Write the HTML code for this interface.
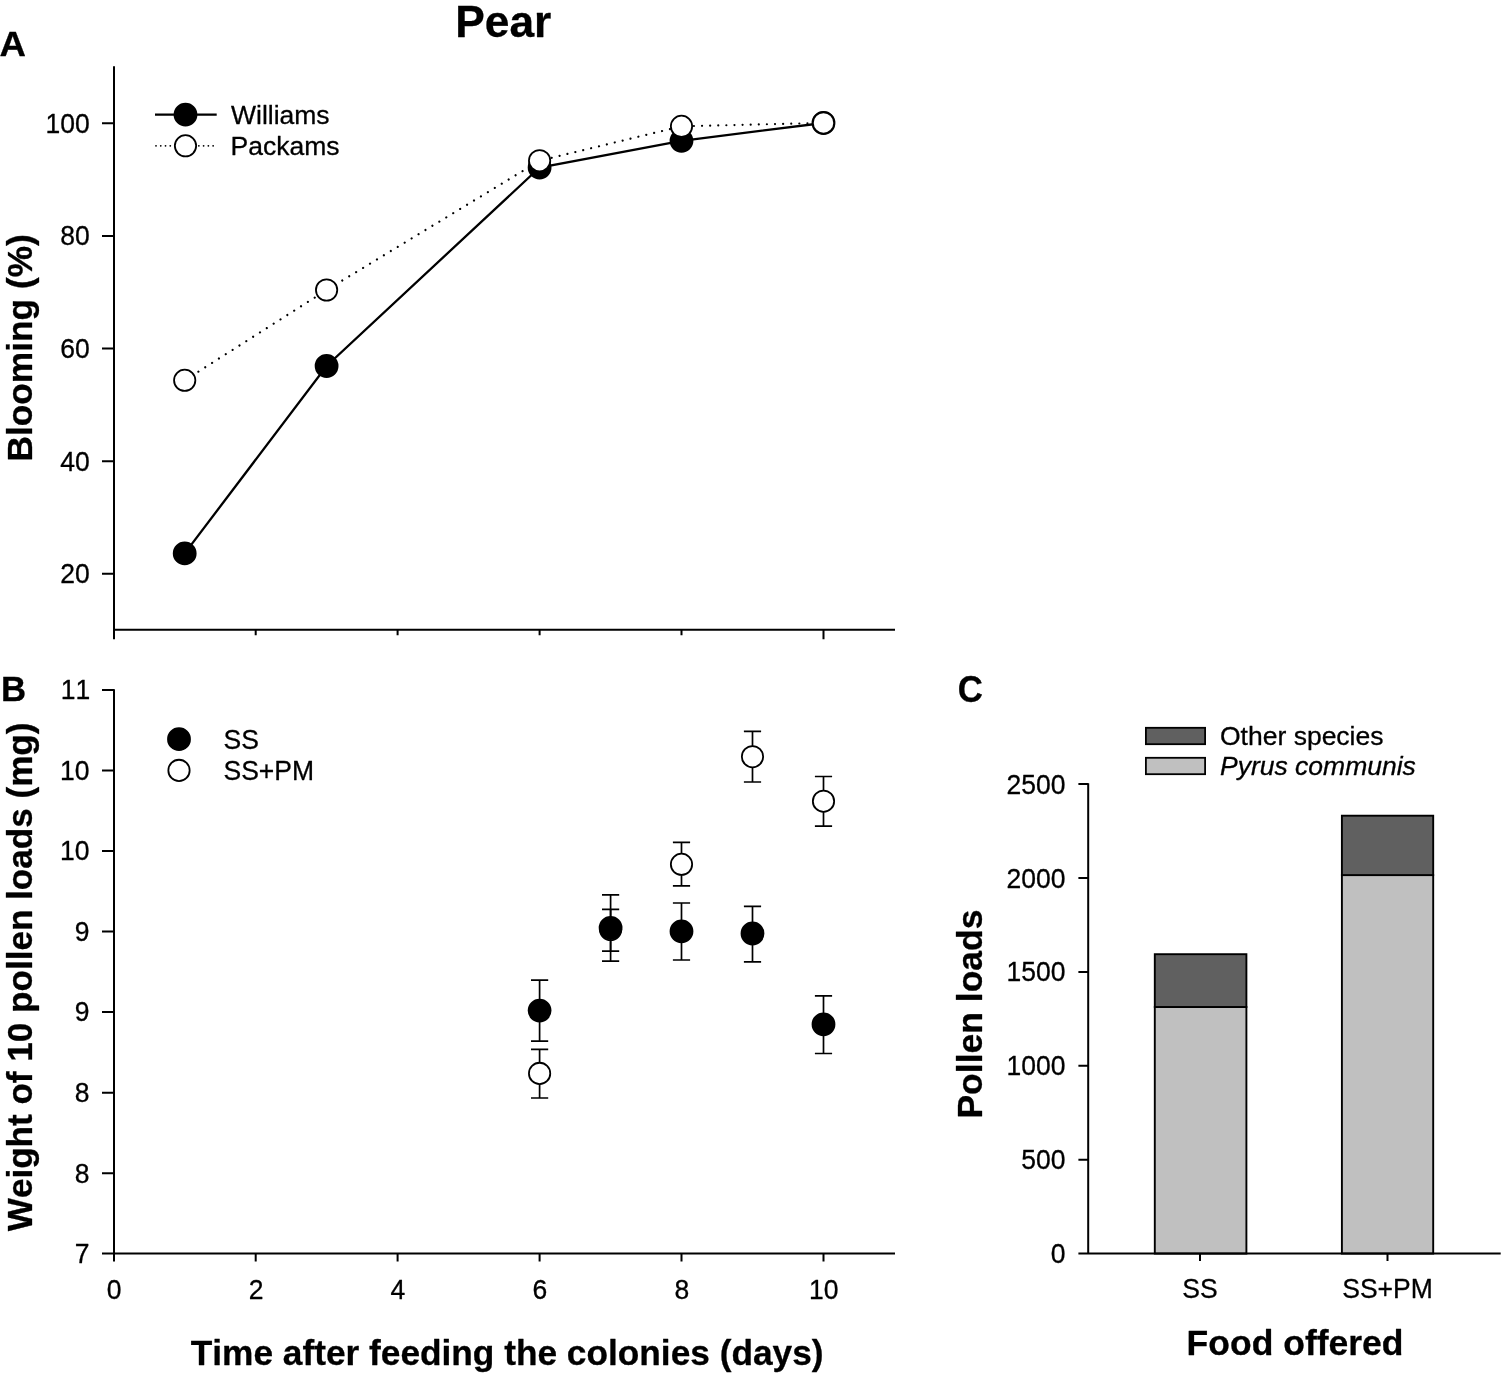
<!DOCTYPE html>
<html><head><meta charset="utf-8"><title>Pear</title>
<style>
html,body{margin:0;padding:0;background:#fff;}
svg{display:block;}
text{font-family:"Liberation Sans",sans-serif;fill:#000;stroke:#000;stroke-width:0.3px;stroke-linejoin:round;font-kerning:none;}
.b{font-weight:bold;}
.t{font-size:26.5px;}
.ax{stroke:#000;stroke-width:2;fill:none;}
.ln{stroke:#000;stroke-width:2.3;fill:none;}
.dt{stroke:#000;stroke-width:2.2;stroke-linecap:round;stroke-dasharray:0.01 8.1;fill:none;}
.eb{stroke:#000;stroke-width:1.7;fill:none;}
.oc{fill:#fff;stroke:#000;stroke-width:1.8;}
.fc{fill:#000;stroke:#000;stroke-width:2;}
</style></head><body>
<svg width="1502" height="1378" viewBox="0 0 1502 1378">
<rect width="1502" height="1378" fill="#fff"/>

<text class="b" x="455.3" y="37" font-size="44.3">Pear</text>
<text class="b" transform="translate(-0.4 55.8) scale(1.03 1)" text-anchor="start" font-size="35.5">A</text>
<path class="ax" d="M114.0 66.3V639.3M113.15 629.8H895"/>
<path class="ax" d="M102 123.3H114.0M102 235.9H114.0M102 348.5H114.0M102 461.2H114.0M102 573.8H114.0"/>
<text class="t" transform="translate(89.7 132.7) scale(1 1.04)" text-anchor="end">100</text>
<text class="t" transform="translate(89.7 245.3) scale(1 1.04)" text-anchor="end">80</text>
<text class="t" transform="translate(89.7 357.9) scale(1 1.04)" text-anchor="end">60</text>
<text class="t" transform="translate(89.7 470.5) scale(1 1.04)" text-anchor="end">40</text>
<text class="t" transform="translate(89.7 583.1) scale(1 1.04)" text-anchor="end">20</text>
<path class="ax" d="M255.7 629.8v5.5M397.6 629.8v5.5M539.6 629.8v5.5M681.5 629.8v5.5M823.5 629.8v9.4"/>
<text class="b" font-size="35.3" transform="translate(32 461.6) rotate(-90)">Blooming (%)</text>
<polyline class="dt" points="184.7,380.3 326.6,290 539.6,160.7 681.5,126.3 823.5,122.9"/>
<polyline class="ln" points="184.7,553.4 326.6,366 539.6,167.5 681.5,140.8 823.5,123"/>
<circle class="fc" cx="184.7" cy="553.4" r="10.9"/>
<circle class="fc" cx="326.6" cy="366" r="10.9"/>
<circle class="fc" cx="539.6" cy="167.5" r="10.9"/>
<circle class="fc" cx="681.5" cy="140.8" r="10.9"/>
<circle class="fc" cx="823.5" cy="123" r="10.9"/>
<circle class="oc" cx="184.7" cy="380.3" r="10.65"/>
<circle class="oc" cx="326.6" cy="290" r="10.65"/>
<circle class="oc" cx="539.6" cy="160.7" r="10.65"/>
<circle class="oc" cx="681.5" cy="126.3" r="10.65"/>
<circle class="oc" cx="823.5" cy="122.9" r="10.65"/>
<path class="ln" d="M155 114.7H216.7"/>
<path class="dt" style="stroke-dasharray:0.01 4.75;stroke-width:1.8" d="M156 145.8H214"/>
<circle class="fc" cx="185.5" cy="114.7" r="10.9"/>
<circle class="oc" cx="185.5" cy="145.8" r="10.65"/>
<text class="t" x="231" y="124.2">Williams</text>
<text class="t" x="230.5" y="154.7">Packams</text>
<text class="b" transform="translate(1.0 700.6) scale(0.98 0.985)" text-anchor="start" font-size="35.5">B</text>
<path class="ax" d="M114.0 689.25V1261.5M102 1253.5H895"/>
<text class="t" transform="translate(90.3 699.4) scale(1 1.04)" text-anchor="end">11</text>
<text class="t" transform="translate(89.5 779.9) scale(1 1.04)" text-anchor="end">10</text>
<text class="t" transform="translate(89.5 860.4) scale(1 1.04)" text-anchor="end">10</text>
<text class="t" transform="translate(89.5 940.9) scale(1 1.04)" text-anchor="end">9</text>
<text class="t" transform="translate(89.5 1021.4) scale(1 1.04)" text-anchor="end">9</text>
<text class="t" transform="translate(89.5 1102.0) scale(1 1.04)" text-anchor="end">8</text>
<text class="t" transform="translate(89.5 1182.5) scale(1 1.04)" text-anchor="end">8</text>
<text class="t" transform="translate(89.5 1263.0) scale(1 1.04)" text-anchor="end">7</text>
<path class="ax" d="M102 690.1H114.0M102 770.6H114.0M102 851.1H114.0M102 931.6H114.0M102 1012.1H114.0M102 1092.7H114.0M102 1173.2H114.0M255.7 1253.5v8M397.6 1253.5v8M539.6 1253.5v8M681.5 1253.5v8M823.5 1253.5v8"/>
<text class="t" transform="translate(114.0 1298.9) scale(1 1.04)" text-anchor="middle">0</text>
<text class="t" transform="translate(256.0 1298.9) scale(1 1.04)" text-anchor="middle">2</text>
<text class="t" transform="translate(397.9 1298.9) scale(1 1.04)" text-anchor="middle">4</text>
<text class="t" transform="translate(539.9 1298.9) scale(1 1.04)" text-anchor="middle">6</text>
<text class="t" transform="translate(681.8 1298.9) scale(1 1.04)" text-anchor="middle">8</text>
<text class="t" transform="translate(823.8 1298.9) scale(1 1.04)" text-anchor="middle">10</text>
<text class="b" font-size="35.25" x="190.8" y="1364.8">Time after feeding the colonies (days)</text>
<text class="b" font-size="35.1" transform="translate(32 1231.2) rotate(-90)">Weight of 10 pollen loads (mg)</text>
<path class="eb" d="M539.6 1049.3V1098.0M531.0 1049.3h17.2M531.0 1098.0h17.2M610.6 909.4V951.1M602.0 909.4h17.2M602.0 951.1h17.2M681.5 842.3V885.9M672.9 842.3h17.2M672.9 885.9h17.2M752.5 731.4V782.0M743.9 731.4h17.2M743.9 782.0h17.2M823.5 776.5V826.2M814.9 776.5h17.2M814.9 826.2h17.2"/>
<circle class="oc" cx="539.6" cy="1073.3999999999999" r="10.65"/>
<circle class="oc" cx="610.6" cy="929.5" r="10.65"/>
<circle class="oc" cx="681.5" cy="864.3" r="10.65"/>
<circle class="oc" cx="752.5" cy="756.6999999999999" r="10.65"/>
<circle class="oc" cx="823.5" cy="801.1999999999999" r="10.65"/>
<path class="eb" d="M539.6 980.1V1041.1M531.0 980.1h17.2M531.0 1041.1h17.2M610.6 894.8V961.2M602.0 894.8h17.2M602.0 961.2h17.2M681.5 903.0V960.0M672.9 903.0h17.2M672.9 960.0h17.2M752.5 906.3V961.8M743.9 906.3h17.2M743.9 961.8h17.2M823.5 995.9V1053.5M814.9 995.9h17.2M814.9 1053.5h17.2"/>
<circle class="fc" cx="539.6" cy="1010.5999999999999" r="10.9"/>
<circle class="fc" cx="610.6" cy="927.8" r="10.9"/>
<circle class="fc" cx="681.5" cy="931.3" r="10.9"/>
<circle class="fc" cx="752.5" cy="933.5" r="10.9"/>
<circle class="fc" cx="823.5" cy="1024.3" r="10.9"/>
<circle class="fc" cx="179" cy="739.2" r="10.9"/>
<circle class="oc" cx="179" cy="770.4" r="10.65"/>
<text class="t" transform="translate(223.5 748.5) scale(1 1.04)" text-anchor="start">SS</text>
<text class="t" transform="translate(223.5 780.4) scale(1 1.04)" text-anchor="start">SS+PM</text>
<text class="b" transform="translate(957.7 701.6) scale(0.98 1.03)" text-anchor="start" font-size="35.5">C</text>
<rect x="1154.8" y="1007" width="91.6" height="246.6" fill="#c0c0c0" stroke="#000" stroke-width="1.9"/>
<rect x="1154.8" y="954.2" width="91.6" height="52.8" fill="#606060" stroke="#000" stroke-width="1.9"/>
<rect x="1341.9" y="875.1" width="91.3" height="378.5" fill="#c0c0c0" stroke="#000" stroke-width="1.9"/>
<rect x="1341.9" y="815.7" width="91.3" height="59.4" fill="#606060" stroke="#000" stroke-width="1.9"/>
<path class="ax" d="M1088.2 783.2V1253.6M1078.4 1253.6H1500.7"/>
<path class="ax" d="M1078.4 1159.7H1088.2M1078.4 1065.8H1088.2M1078.4 971.9H1088.2M1078.4 878.0H1088.2M1078.4 784.1H1088.2M1200 1253.6v7.5M1387.5 1253.6v7.5"/>
<text class="t" transform="translate(1065.5 1263.1) scale(1 1.04)" text-anchor="end">0</text>
<text class="t" transform="translate(1065.5 1169.2) scale(1 1.04)" text-anchor="end">500</text>
<text class="t" transform="translate(1065.5 1075.3) scale(1 1.04)" text-anchor="end">1000</text>
<text class="t" transform="translate(1065.5 981.4) scale(1 1.04)" text-anchor="end">1500</text>
<text class="t" transform="translate(1065.5 887.5) scale(1 1.04)" text-anchor="end">2000</text>
<text class="t" transform="translate(1065.5 793.6) scale(1 1.04)" text-anchor="end">2500</text>
<text class="t" transform="translate(1200 1297.8) scale(1 1.04)" text-anchor="middle">SS</text>
<text class="t" transform="translate(1387.5 1297.8) scale(1 1.04)" text-anchor="middle">SS+PM</text>
<text class="b" font-size="35.5" x="1186.6" y="1355.4">Food offered</text>
<text class="b" font-size="35.5" transform="translate(982 1118.6) rotate(-90)">Pollen loads</text>
<rect x="1145.9" y="727.8" width="59.2" height="16.4" fill="#606060" stroke="#000" stroke-width="1.8"/>
<rect x="1145.9" y="757.8" width="59.2" height="16.4" fill="#c0c0c0" stroke="#000" stroke-width="1.8"/>
<text class="t" x="1220" y="745">Other species</text>
<text class="t" x="1220" y="775" font-style="italic">Pyrus communis</text>
</svg></body></html>
